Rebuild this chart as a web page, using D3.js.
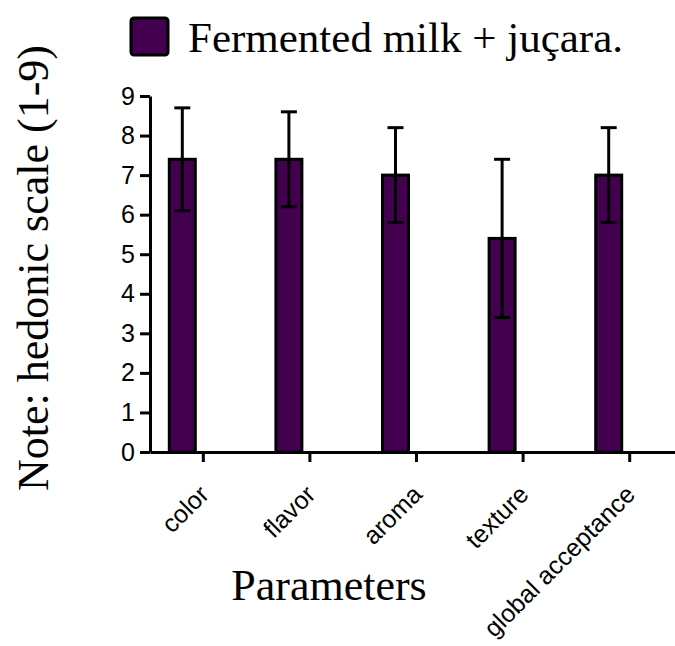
<!DOCTYPE html>
<html>
<head>
<meta charset="utf-8">
<script src="https://cdn.jsdelivr.net/npm/d3@7"></script>
<style>
  html, body { margin: 0; padding: 0; background: #fff; }
  svg { display: block; }
</style>
</head>
<body>
<svg id="chart" width="675" height="646"></svg>
<script>
// Sensory scores (hedonic scale 1-9), mean and standard deviation
const categories = ["color", "flavor", "aroma", "texture", "global acceptance"];
const means = [7.4, 7.4, 7.0, 5.4, 7.0];
const sds = [1.3, 1.2, 1.2, 2.0, 1.2];
const yTicks = [0, 1, 2, 3, 4, 5, 6, 7, 8, 9];
const seriesName = "Fermented milk + juçara.";

const barColor = "#42004f";
const serif = "'Liberation Serif', 'Times New Roman', serif";
const sans = "'Liberation Sans', Arial, sans-serif";

const svg = d3.select("#chart");

const x = d3.scaleBand().domain(categories).range([150, 683]).padding(0);
const y = d3.scaleLinear().domain([0, 9]).range([452, 96]);

const barOffset = -21;   // bars sit left of the category tick
const barW = 26;
const capW = 16;

const data = categories.map((c, i) => ({ c, m: means[i], sd: sds[i] }));
const cx = d => x(d.c) + x.bandwidth() / 2 + barOffset;

// Bars
svg.append("g").selectAll("rect").data(data).join("rect")
  .attr("x", d => cx(d) - barW / 2)
  .attr("y", d => y(d.m))
  .attr("width", barW)
  .attr("height", d => y(0) - y(d.m))
  .attr("fill", barColor)
  .attr("stroke", "#000")
  .attr("stroke-width", 3);

// Error bars
const eb = svg.append("g").attr("stroke", "#000").attr("stroke-width", 3);
eb.selectAll("line.v").data(data).join("line").attr("class", "v")
  .attr("x1", cx).attr("x2", cx)
  .attr("y1", d => y(d.m + d.sd)).attr("y2", d => y(d.m - d.sd));
eb.selectAll("line.t").data(data).join("line").attr("class", "t")
  .attr("x1", d => cx(d) - capW / 2).attr("x2", d => cx(d) + capW / 2)
  .attr("y1", d => y(d.m + d.sd)).attr("y2", d => y(d.m + d.sd));
eb.selectAll("line.b").data(data).join("line").attr("class", "b")
  .attr("x1", d => cx(d) - capW / 2).attr("x2", d => cx(d) + capW / 2)
  .attr("y1", d => y(d.m - d.sd)).attr("y2", d => y(d.m - d.sd));

// Y axis
const yAxis = svg.append("g").attr("transform", "translate(150,0)")
  .call(d3.axisLeft(y).tickValues(yTicks).tickFormat(d3.format("d"))
    .tickSize(10).tickSizeOuter(0).tickPadding(5));
yAxis.selectAll("path, line").attr("stroke", "#000").attr("stroke-width", 3);
yAxis.selectAll("text").attr("font-family", sans).attr("font-size", 25).attr("fill", "#000");

// X axis
const xAxis = svg.append("g").attr("transform", "translate(0,452)")
  .call(d3.axisBottom(x).tickSize(10).tickSizeOuter(0));
xAxis.selectAll("path, line").attr("stroke", "#000").attr("stroke-width", 3);
xAxis.selectAll("text").remove();
xAxis.selectAll(".tick").append("text")
  .attr("transform", "translate(7,44) rotate(-45)")
  .attr("text-anchor", "end")
  .attr("font-family", sans).attr("font-size", 25).attr("fill", "#000")
  .text(d => d);

// Axis titles
svg.append("text")
  .attr("transform", "translate(48,268) rotate(-90)")
  .attr("text-anchor", "middle")
  .attr("font-family", serif).attr("font-size", 44).attr("fill", "#000")
  .text("Note: hedonic scale (1-9)");

svg.append("text")
  .attr("x", 329).attr("y", 600)
  .attr("text-anchor", "middle")
  .attr("font-family", serif).attr("font-size", 44).attr("fill", "#000")
  .text("Parameters");

// Legend
const lg = svg.append("g");
lg.append("rect").attr("x", 131).attr("y", 18).attr("width", 37).attr("height", 37)
  .attr("rx", 3).attr("fill", barColor).attr("stroke", "#000").attr("stroke-width", 3);
lg.append("text").attr("x", 188).attr("y", 52)
  .attr("font-family", serif).attr("font-size", 43).attr("fill", "#000")
  .text(seriesName);
</script>
</body>
</html>
